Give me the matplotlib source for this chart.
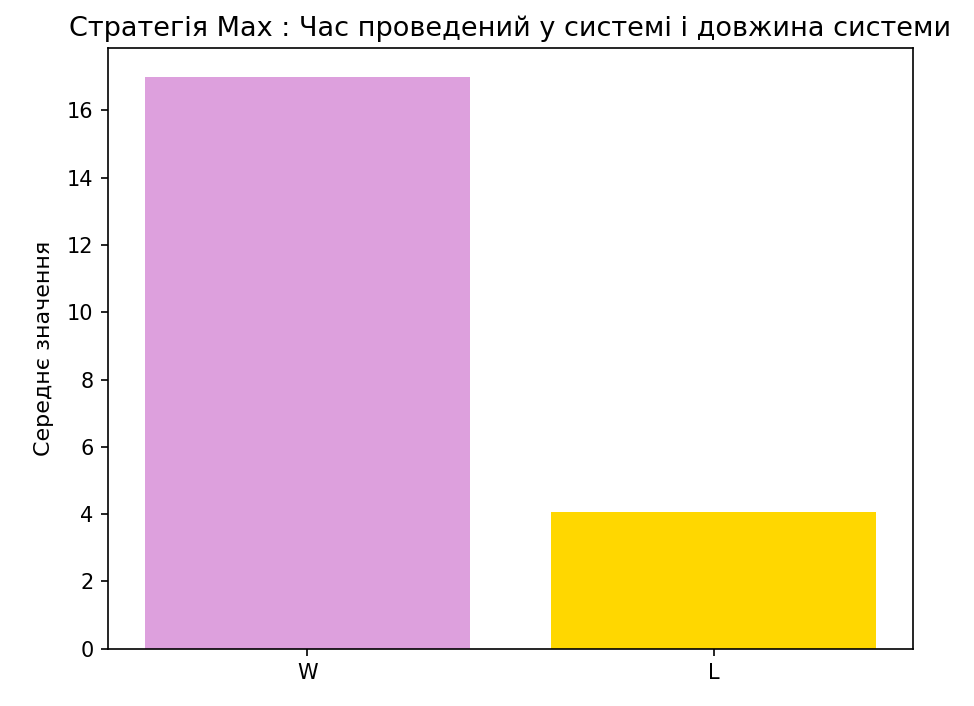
import matplotlib
matplotlib.use("Agg")
import matplotlib.pyplot as plt

categories = ["W", "L"]
values = [17.0, 4.07]
colors = ["plum", "gold"]

fig = plt.figure(figsize=(974 / 150, 706 / 150), dpi=150)
ax = fig.add_axes([0.111, 0.081, 0.826, 0.851])
ax.bar(categories, values, color=colors)
ax.set_title("Стратегія Max : Час проведений у системі і довжина системи", fontsize=13)
ax.set_ylabel("Середнє значення", fontsize=10.7, labelpad=6)
fig.savefig("out.png", dpi=150)
